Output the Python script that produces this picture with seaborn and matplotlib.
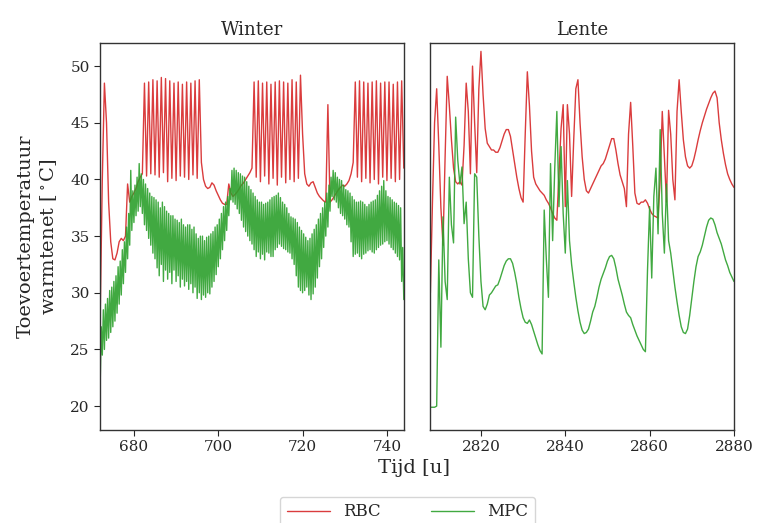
import numpy as np
import pandas as pd
import seaborn as sns
import matplotlib
matplotlib.use('Agg')
import matplotlib.pyplot as plt

# Tijdstappen: RBC en lente per half uur, MPC winter per kwartier
tijd_winter = np.arange(672, 744.5, 0.5)
tijd_winter_mpc = np.arange(672, 744.1, 0.25)
tijd_lente = np.arange(2808, 2880.5, 0.5)

rbc_winter = [
    28.0, 40.0, 48.5, 45.0, 38.0, 34.5, 33.0, 32.9, 33.5, 34.5, 34.8, 34.6, 35.0, 39.6,
    38.0, 38.5, 38.8, 39.2, 39.8, 40.2, 40.5, 48.5, 40.3, 48.6, 40.5, 48.8, 40.4, 48.7,
    40.2, 49.0, 40.6, 48.9, 39.8, 48.7, 40.1, 48.5, 39.9, 48.6, 40.3, 48.4, 40.2, 48.6,
    40.0, 48.5, 40.4, 48.7, 40.1, 48.8, 41.5, 40.0, 39.4, 39.2, 39.3, 39.7, 39.5, 39.0,
    38.6, 38.2, 37.9, 37.8, 37.8, 39.6, 38.8, 38.5, 38.7, 38.9, 39.2, 39.5, 39.7, 40.0,
    40.3, 40.6, 41.0, 48.6, 40.2, 48.7, 39.8, 48.5, 40.3, 48.6, 39.6, 48.4, 40.1, 48.6,
    39.5, 48.7, 40.2, 48.6, 39.7, 48.5, 40.0, 48.8, 39.8, 48.6, 40.1, 49.2, 44.0, 40.5,
    39.6, 39.4, 39.7, 39.8, 39.3, 38.8, 38.5, 38.3, 38.1, 38.0, 46.6, 38.0, 38.2, 38.5,
    38.8, 39.1, 39.3, 39.5, 39.4, 39.6, 39.9, 40.5, 41.5, 48.6, 40.2, 48.7, 39.8, 48.6,
    40.1, 48.5, 39.7, 48.6, 40.0, 48.7, 39.6, 48.5, 40.2, 48.6, 39.9, 48.6, 40.1, 48.4,
    39.8, 48.6, 40.0, 48.7, 41.0,
]

mpc_winter = [
    22.0, 27.0, 24.5, 28.5, 25.0, 29.0, 25.8, 29.5, 26.0, 30.2, 26.5, 30.5,
    27.0, 31.0, 27.5, 31.5, 28.2, 32.3, 29.0, 32.8, 29.8, 33.8, 30.8, 34.5,
    31.8, 35.8, 33.0, 37.0, 34.2, 40.8, 35.5, 39.0, 36.2, 39.5, 36.8, 40.2,
    37.2, 41.4, 37.6, 40.5, 37.0, 40.0, 36.0, 39.6, 35.5, 39.2, 34.8, 38.8,
    34.2, 38.5, 33.5, 38.4, 33.0, 38.2, 32.2, 38.0, 31.5, 37.5, 32.5, 38.0,
    31.0, 37.6, 32.0, 37.2, 31.2, 37.0, 31.8, 36.8, 30.8, 36.8, 32.0, 36.5,
    31.0, 36.4, 31.5, 36.2, 30.5, 36.5, 31.2, 36.0, 30.6, 35.8, 31.0, 36.0,
    30.3, 36.0, 30.8, 35.6, 30.0, 35.8, 30.5, 35.2, 29.5, 34.8, 30.0, 35.0,
    29.4, 35.0, 29.8, 34.6, 29.6, 34.9, 30.0, 35.0, 29.9, 35.2, 30.5, 35.4,
    31.0, 35.8, 31.6, 36.0, 32.3, 36.5, 33.0, 37.0, 33.8, 37.6, 34.6, 38.0,
    35.5, 38.5, 36.8, 39.2, 38.2, 40.8, 38.0, 41.0, 37.8, 40.8, 37.4, 40.6,
    37.0, 40.5, 36.4, 40.3, 35.8, 40.2, 35.4, 39.8, 35.0, 39.4, 34.6, 39.1,
    34.3, 38.8, 33.8, 38.5, 33.2, 38.2, 33.6, 38.0, 33.0, 38.0, 33.4, 37.8,
    32.9, 37.9, 33.6, 38.0, 33.5, 38.2, 33.2, 38.4, 33.2, 38.5, 33.8, 38.6,
    34.0, 38.8, 34.3, 38.4, 34.1, 38.0, 33.9, 37.8, 33.8, 37.5, 33.6, 37.0,
    33.5, 36.7, 33.0, 36.6, 32.5, 36.5, 31.5, 36.2, 30.5, 35.8, 30.2, 35.5,
    30.0, 35.2, 30.2, 34.9, 30.5, 34.6, 29.8, 34.8, 29.4, 35.2, 29.9, 35.6,
    30.5, 36.0, 31.3, 36.5, 32.3, 37.0, 33.0, 37.5, 34.0, 38.0, 35.0, 38.8,
    35.8, 39.5, 37.2, 40.2, 38.5, 40.8, 38.2, 40.6, 38.0, 40.2, 37.5, 40.0,
    37.0, 39.9, 36.8, 39.5, 36.5, 39.1, 36.0, 39.0, 35.8, 38.8, 34.5, 38.5,
    33.2, 38.2, 33.4, 38.0, 33.5, 38.0, 33.2, 38.1, 33.0, 38.0, 33.4, 37.8,
    33.5, 37.6, 33.7, 37.8, 33.8, 38.0, 33.6, 38.1, 33.5, 38.2, 33.8, 38.6,
    34.0, 39.0, 34.2, 39.4, 34.3, 39.9, 34.5, 39.0, 34.6, 38.5, 34.3, 38.4,
    34.0, 38.2, 33.8, 38.0, 33.5, 37.9, 33.2, 37.7, 32.9, 37.5, 31.0, 34.0,
    29.4,
]

rbc_lente = [
    30.0, 38.0, 45.0, 48.0, 43.0, 37.5, 34.2, 42.0, 49.1, 46.5, 43.5, 41.0, 39.8, 39.6,
    39.8, 39.5, 43.0, 48.5, 46.0, 40.5, 50.0, 45.0, 40.6, 48.0, 51.3, 47.5, 44.5, 43.2,
    42.9, 42.6, 42.6, 42.4, 42.4, 42.8, 43.4, 44.0, 44.4, 44.4, 43.8, 42.6, 41.4, 40.2,
    39.2, 38.4, 38.0, 44.0, 49.5, 46.5, 42.5, 40.2, 39.6, 39.3, 39.0, 38.8, 38.6, 38.2,
    37.9, 37.5, 37.0, 36.6, 36.4, 40.5, 44.5, 46.6, 37.6, 46.6, 44.0, 38.5, 43.5, 48.0,
    48.8, 45.0, 42.0, 40.0, 39.0, 38.8, 39.2, 39.6, 40.0, 40.4, 40.8, 41.2, 41.4, 41.8,
    42.4, 43.0, 43.6, 43.6, 42.6, 41.4, 40.4, 39.8, 39.2, 37.6, 44.0, 46.8, 43.0, 38.8,
    37.9, 37.8, 38.0, 38.0, 38.2, 37.9, 37.4, 37.0, 36.8, 36.7, 36.6, 40.0, 46.0, 42.0,
    38.0, 46.1, 44.0, 40.0, 38.2, 46.0, 48.8, 46.0, 43.5, 42.0, 41.2, 41.0, 41.2, 41.8,
    42.6, 43.5, 44.3, 45.0, 45.6, 46.2, 46.7, 47.2, 47.6, 47.8, 47.2, 45.0, 43.5, 42.3,
    41.3, 40.5, 40.0, 39.6, 39.3,
]

mpc_lente = [
    19.9, 19.9, 19.9, 20.0, 32.9, 25.2, 36.7, 31.0, 29.4, 40.2, 36.0, 34.4, 45.5, 41.7,
    39.6, 41.1, 36.1, 38.0, 33.0, 30.0, 29.6, 40.5, 40.2, 35.0, 31.0, 28.8, 28.5, 29.0,
    29.8, 30.0, 30.3, 30.6, 30.7, 31.2, 31.8, 32.4, 32.8, 33.0, 33.0, 32.6, 31.8, 30.8,
    29.6, 28.6, 27.8, 27.4, 27.3, 27.6, 27.2, 26.6, 26.0, 25.4, 24.9, 24.6, 37.3, 33.0,
    29.6, 41.4, 34.6, 41.0, 46.0, 37.6, 42.9, 37.0, 33.5, 39.9, 34.6, 32.5, 31.0, 29.6,
    28.4, 27.4, 26.7, 26.4, 26.5, 26.8, 27.5, 28.3, 28.8, 29.6, 30.5, 31.2, 31.7, 32.2,
    32.8, 33.2, 33.3, 33.0, 32.2, 31.2, 30.5, 29.8, 29.0, 28.3, 28.0, 27.8, 27.2, 26.7,
    26.2, 25.8, 25.4, 25.0, 24.8, 32.0, 37.6, 31.3, 38.5, 41.0, 35.2, 44.4, 37.0, 33.5,
    39.6, 34.6, 33.5, 32.0, 30.5, 29.2, 28.0, 27.0, 26.5, 26.4, 26.8, 28.0, 29.5, 31.0,
    32.3, 33.2, 33.6, 34.2, 35.0, 35.8, 36.4, 36.6, 36.5, 36.0, 35.3, 34.8, 34.3, 33.6,
    32.9, 32.4, 31.8, 31.4, 31.0,
]

seizoenen = ['Winter', 'Lente']
regelingen = ['RBC', 'MPC']
kleuren = {'RBC': '#d62728', 'MPC': '#2ca02c'}


def maak_df(tijd_rbc, rbc, tijd_mpc, mpc):
    n1 = min(len(tijd_rbc), len(rbc))
    n2 = min(len(tijd_mpc), len(mpc))
    rbc_df = pd.DataFrame({'tijd': tijd_rbc[:n1], 'temp': rbc[:n1], 'regeling': 'RBC'})
    mpc_df = pd.DataFrame({'tijd': tijd_mpc[:n2], 'temp': mpc[:n2], 'regeling': 'MPC'})
    return pd.concat([rbc_df, mpc_df])


data = {
    'Winter': maak_df(tijd_winter, rbc_winter, tijd_winter_mpc, mpc_winter),
    'Lente': maak_df(tijd_lente, rbc_lente, tijd_lente, mpc_lente),
}
limieten = {'Winter': (672, 744), 'Lente': (2808, 2880)}

sns.set_theme(style='ticks')
plt.rcParams['font.family'] = ['DejaVu Serif']
plt.rcParams['mathtext.fontset'] = 'dejavuserif'

fig = plt.figure(figsize=(7.59, 5.23), dpi=100)
ax1 = fig.add_axes([0.132, 0.178, 0.400, 0.740])
ax2 = fig.add_axes([0.567, 0.178, 0.400, 0.740], sharey=ax1)

for ax, seizoen in zip([ax1, ax2], seizoenen):
    sns.lineplot(data=data[seizoen], x='tijd', y='temp', hue='regeling',
                 hue_order=regelingen, palette=kleuren, estimator=None,
                 linewidth=1.0, alpha=0.9, ax=ax, legend=False)
    ax.set_xlim(limieten[seizoen])
    ax.set_title(seizoen, fontsize=13)
    ax.set_xlabel('')
    ax.set_ylabel('')
    ax.tick_params(labelsize=11, direction='out', length=4, width=0.8)
    for sp in ax.spines.values():
        sp.set_linewidth(1.0)
        sp.set_color('#333333')

ax1.set_ylim(17.9, 52.05)
ax1.set_yticks([20, 25, 30, 35, 40, 45, 50])
ax1.set_xticks([680, 700, 720, 740])
ax2.set_xticks([2820, 2840, 2860, 2880])
ax2.tick_params(labelleft=False, left=False)
ax1.set_ylabel('Toevoertemperatuur\nwarmtenet [$^\\circ$C]', fontsize=14, labelpad=8)

fig.text(0.545, 0.105, 'Tijd [u]', ha='center', va='center', fontsize=14)

handles = [plt.Line2D([], [], color=kleuren[r], linewidth=1.0, alpha=0.9) for r in regelingen]
fig.legend(handles, regelingen, loc='upper center', bbox_to_anchor=(0.537, 0.066),
           ncol=2, fontsize=12, frameon=True, handlelength=2.6, columnspacing=3.0)

fig.savefig('out.png', dpi=100)
